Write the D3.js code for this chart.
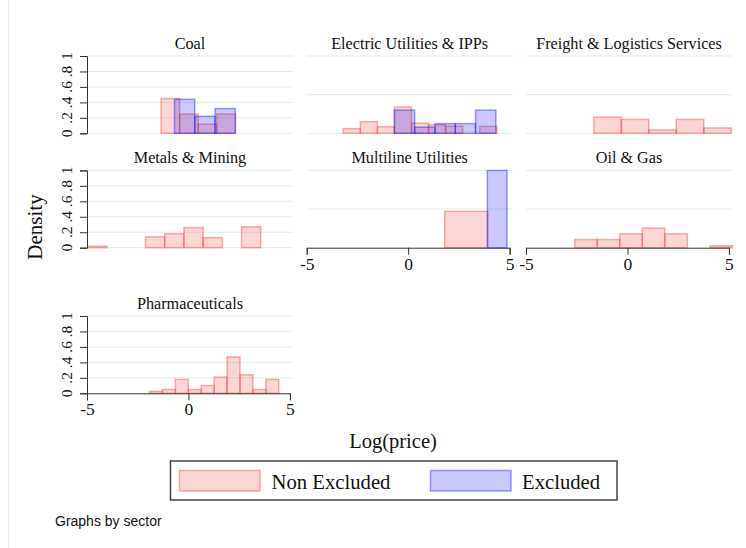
<!DOCTYPE html>
<html>
<head>
<meta charset="utf-8">
<script src="https://cdn.jsdelivr.net/npm/d3@7"></script>
<style>
  html, body { margin: 0; padding: 0; background: #fff; }
  svg { display: block; }
  text { font-family: "Liberation Serif", "DejaVu Serif", serif; fill: #111; }
</style>
</head>
<body>
<svg id="chart" width="746" height="548"></svg>
<script>
// Sectors, in panel order (row by row, three per row)
const sectors = [
  "Coal", "Electric Utilities & IPPs", "Freight & Logistics Services",
  "Metals & Mining", "Multiline Utilities", "Oil & Gas",
  "Pharmaceuticals"
];

// Non-excluded firms: first bin edge, bin width and bin densities per sector
const nonExclStart = [-1.35, -3.2, -1.66, -4.96, 1.8, -2.6, -1.92];
const nonExclWidth = [0.915, 0.841, 1.355, 0.947, 2.12, 1.11, 0.637];
const nonExclDensity = [
  [0.45, 0.25, 0.12, 0.25],
  [0.06, 0.15, 0.085, 0.34, 0.13, 0.11, 0.09, 0, 0.09],
  [0.21, 0.18, 0.045, 0.18, 0.07],
  [0.02, 0, 0, 0.14, 0.18, 0.26, 0.13, 0, 0.27],
  [0.47],
  [0.105, 0.105, 0.18, 0.255, 0.18, 0, 0.025],
  [0.026, 0.048, 0.18, 0.048, 0.1, 0.21, 0.47, 0.24, 0.048, 0.18]
];

// Excluded firms: same layout (empty where a sector has none)
const exclStart = [-0.69, -0.68, 0, 0, 3.9, 0, 0];
const exclWidth = [1.0, 1.0, 1, 1, 0.97, 1, 1];
const exclDensity = [
  [0.44, 0.22, 0.32],
  [0.30, 0.08, 0.125, 0.125, 0.30],
  [], [],
  [1.0],
  [], []
];

// Axis ticks
const xTicks = [-5, 0, 5];
const xTickLabels = ["-5", "0", "5"];
const yTicks = [0, 0.2, 0.4, 0.6, 0.8, 1];
const yTickLabels = ["0", ".2", ".4", ".6", ".8", "1"];
const yGridSparse = [0, 0.5, 1];

const legendLabels = ["Non Excluded", "Excluded"];

const colours = {
  nonFill: "rgba(235,70,60,0.22)", nonStroke: "rgba(235,70,60,0.42)",
  exFill: "rgba(0,0,255,0.21)", exStroke: "rgba(0,0,255,0.38)",
  grid: "#e3ebeb", axis: "#333"
};

const svg = d3.select("#chart");

// faint frame line on the left edge
svg.append("line").attr("x1", 8.5).attr("x2", 8.5).attr("y1", 0).attr("y2", 548)
  .attr("stroke", "#ebebeb").attr("stroke-width", 1);

const colLeft = [87, 306.7, 526];
const plotW = 206;
const rowBase = [133.3, 247.7, 393.3];
const plotH = 77.3;

sectors.forEach((name, i) => {
  const col = i % 3, row = Math.floor(i / 3);
  const left = colLeft[col], base = rowBase[row];
  const x = d3.scaleLinear().domain([-5, 5.15]).range([left, left + plotW]);
  const y = d3.scaleLinear().domain([0, 1]).range([base, base - plotH]);
  const g = svg.append("g");

  // does this panel carry the x axis (nothing beneath it)?
  const hasXAxis = (i + 3) >= sectors.length;
  const gridVals = col === 0 ? yTicks : yGridSparse;

  g.selectAll("line.grid").data(gridVals.filter(v => !(hasXAxis && v === 0)))
    .join("line").attr("class", "grid")
    .attr("x1", left).attr("x2", left + plotW)
    .attr("y1", d => y(d)).attr("y2", d => y(d))
    .attr("stroke", colours.grid).attr("stroke-width", 1);

  // title
  g.append("text").attr("x", left + plotW / 2).attr("y", base - plotH - 7)
    .attr("text-anchor", "middle").attr("font-size", 16.2).text(name);

  const drawBars = (start, width, dens, fill, stroke) => {
    const bins = dens.map((d, k) => ({ x0: start + k * width, x1: start + (k + 1) * width, d }));
    g.append("g").selectAll("rect").data(bins).join("rect")
      .attr("x", b => x(b.x0)).attr("width", b => x(b.x1) - x(b.x0))
      .attr("y", b => y(b.d)).attr("height", b => y(0) - y(b.d))
      .attr("fill", fill).attr("stroke", stroke).attr("stroke-width", 1.5);
  };
  drawBars(nonExclStart[i], nonExclWidth[i], nonExclDensity[i], colours.nonFill, colours.nonStroke);
  drawBars(exclStart[i], exclWidth[i], exclDensity[i], colours.exFill, colours.exStroke);

  if (col === 0) {
    const ya = d3.axisLeft(y).tickValues(yTicks).tickSize(7).tickFormat("");
    const ag = g.append("g").attr("transform", `translate(${left},0)`).call(ya);
    ag.select(".domain").attr("stroke", colours.axis);
    ag.selectAll(".tick line").attr("stroke", colours.axis);
    g.selectAll("text.ylab").data(yTicks).join("text").attr("class", "ylab")
      .attr("transform", d => `translate(${left - 15},${y(d)}) rotate(-90)`)
      .attr("text-anchor", "middle").attr("font-size", 15.5)
      .text((d, k) => yTickLabels[k]);
  }
  if (hasXAxis) {
    const xa = d3.axisBottom(x.copy().domain([-5, 5]).range([x(-5), x(5)]))
      .tickValues(xTicks).tickSize(7).tickFormat((d, k) => xTickLabels[k]);
    const ag = g.append("g").attr("transform", `translate(0,${base})`).call(xa);
    ag.select(".domain").attr("stroke", colours.axis);
    ag.selectAll(".tick line").attr("stroke", colours.axis);
    ag.selectAll(".tick text").attr("font-size", 17.5).attr("fill", "#111")
      .attr("font-family", "Liberation Serif, serif").attr("dy", "0.8em").attr("y", 8);
  }
});

// axis titles
svg.append("text").attr("transform", "translate(42,227) rotate(-90)")
  .attr("text-anchor", "middle").attr("font-size", 21).text("Density");
svg.append("text").attr("x", 393).attr("y", 448)
  .attr("text-anchor", "middle").attr("font-size", 20.5).text("Log(price)");

// legend
const lg = svg.append("g");
lg.append("rect").attr("x", 170.5).attr("y", 461).attr("width", 446.5).attr("height", 39)
  .attr("fill", "#fff").attr("stroke", "#444").attr("stroke-width", 1.5);
const legendItems = [
  { label: legendLabels[0], fill: colours.nonFill, stroke: colours.nonStroke, sx: 179.5, tx: 271.5 },
  { label: legendLabels[1], fill: colours.exFill, stroke: colours.exStroke, sx: 430.5, tx: 522 }
];
legendItems.forEach(it => {
  lg.append("rect").attr("x", it.sx).attr("y", 470.5).attr("width", 80.5).attr("height", 20.5)
    .attr("fill", it.fill).attr("stroke", it.stroke).attr("stroke-width", 1.5);
  lg.append("text").attr("x", it.tx).attr("y", 488.5).attr("font-size", 20.7).text(it.label);
});

// note
svg.append("text").attr("x", 55).attr("y", 526).attr("font-size", 14)
  .style("font-family", "'Liberation Sans', Arial, sans-serif").text("Graphs by sector");
</script>
</body>
</html>
